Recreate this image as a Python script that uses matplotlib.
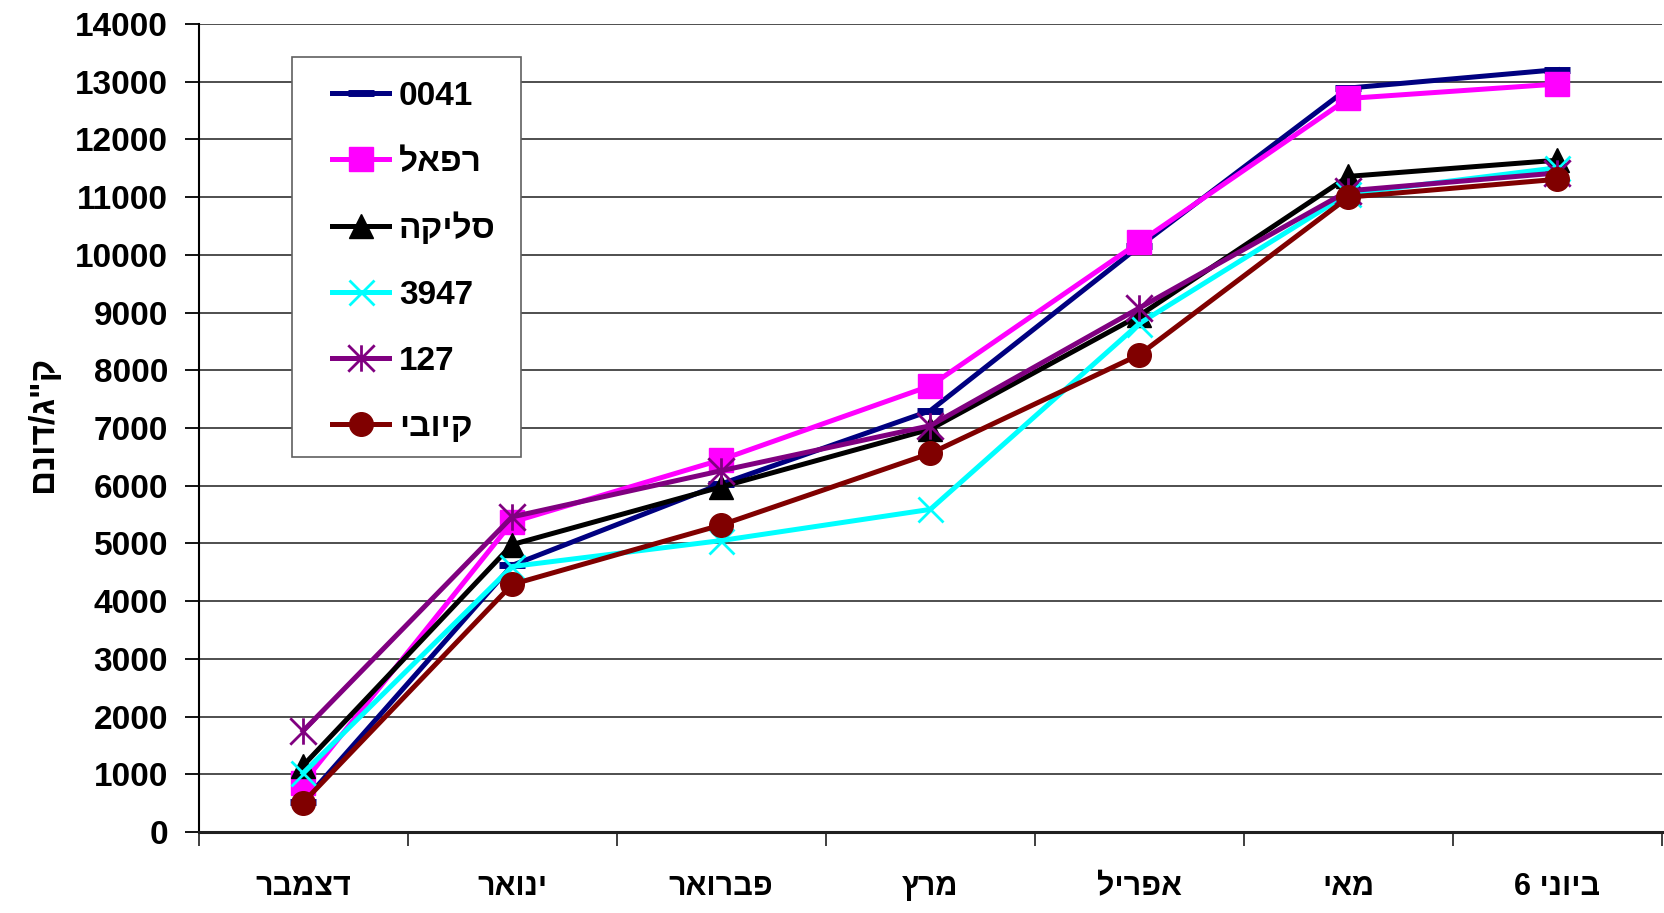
import re
import matplotlib
matplotlib.use("Agg")
import matplotlib.pyplot as plt
from matplotlib.path import Path
from matplotlib.patches import Rectangle
from matplotlib.ticker import FixedLocator

plt.rcParams['font.family'] = ['Liberation Sans', 'DejaVu Sans']
plt.rcParams['font.weight'] = 'bold'

# ---- data ----
months = ["דצמבר", "ינואר", "פברואר", "מרץ", "אפריל", "מאי", "6 ביוני"]
series_names = ["0041", "רפאל", "סליקה", "3947", "127", "קיובי"]
s_0041 = [520, 4620, 6030, 7300, 10150, 12890, 13210]
s_rafael = [850, 5370, 6450, 7730, 10220, 12710, 12960]
s_slika = [1150, 4980, 5980, 6980, 8950, 11360, 11640]
s_3947 = [1020, 4600, 5050, 5590, 8810, 11060, 11510]
s_127 = [1750, 5460, 6260, 7040, 9080, 11110, 11420]
s_kyubi = [510, 4290, 5320, 6560, 8270, 11000, 11310]
y_label = 'ק"ג/דונם'
y_ticks = list(range(0, 14001, 1000))

_heb_run = re.compile(r'[\u0590-\u05FF](?:[\u0590-\u05FF"\'/ \-]*[\u0590-\u05FF])?')


def vis(s):
    """Visual order (LTR base direction): reverse each Hebrew run in place."""
    return _heb_run.sub(lambda m: m.group(0)[::-1], s)


asterisk = Path([(0, -1), (0, 1), (-1, -1), (1, 1), (-1, 1), (1, -1)],
                [Path.MOVETO, Path.LINETO, Path.MOVETO, Path.LINETO, Path.MOVETO, Path.LINETO])

styles = [
    dict(color='#000080', marker='_', ms=19, mew=5),
    dict(color='#FF00FF', marker='s', ms=17, mew=1),
    dict(color='#000000', marker='^', ms=17, mew=1),
    dict(color='#00FFFF', marker='x', ms=18, mew=2),
    dict(color='#800080', marker=asterisk, ms=19, mew=2, mfc='none'),
    dict(color='#800000', marker='o', ms=17, mew=1),
]
data = [s_0041, s_rafael, s_slika, s_3947, s_127, s_kyubi]

fig = plt.figure(figsize=(16.64, 9.13), dpi=100)
ax = fig.add_axes([0.1193, 0.0887, 0.8795, 0.885])

x = list(range(len(months)))
for name, vals, st in zip(series_names, data, styles):
    ax.plot(x, vals, lw=3.6, label=vis(name), **st)

ax.set_xlim(-0.5, len(months) - 0.5)
ax.set_ylim(0, 14000)
ax.yaxis.set_major_locator(FixedLocator(y_ticks))
ax.set_yticklabels([str(v) for v in y_ticks])
ax.grid(axis='y', color='#404040', lw=1.3)
ax.set_axisbelow(True)

ax.set_xticks(x)
ax.set_xticklabels([vis(m) for m in months])
ax.set_xticks([i - 0.5 for i in range(len(months) + 1)], minor=True)
ax.tick_params(axis='x', which='major', length=0, pad=29, labelsize=22)
ax.tick_params(axis='x', which='minor', length=10, width=1.3, direction='out', color='#303030')
ax.tick_params(axis='y', length=10, width=1.3, direction='out', pad=12, labelsize=24)

for sp in ['top', 'right']:
    ax.spines[sp].set_visible(False)
ax.spines['left'].set_linewidth(1.5)
ax.spines['bottom'].set_linewidth(2.2)
ax.spines['bottom'].set_color('#202020')

fig.text(42 / 1664, 0.5356, vis(y_label), rotation=90, ha='center', va='center',
         fontsize=25, fontweight='bold')

# legend frame drawn separately to match the reference box
frame = Rectangle((0.0637, 0.4637), 0.2204 - 0.0637, 0.9588 - 0.4637,
                  transform=ax.transAxes, fill=True, facecolor='white',
                  edgecolor='#606060', lw=1.2, zorder=5)
ax.add_patch(frame)
leg = ax.legend(loc='upper left', bbox_to_anchor=(0.0912, 0.930), borderaxespad=0,
                frameon=False, handlelength=1.72, handletextpad=0.29,
                labelspacing=1.05, borderpad=0,
                prop={'weight': 'bold', 'size': 24})
leg.set_zorder(6)

fig.savefig('out.png', dpi=100)
